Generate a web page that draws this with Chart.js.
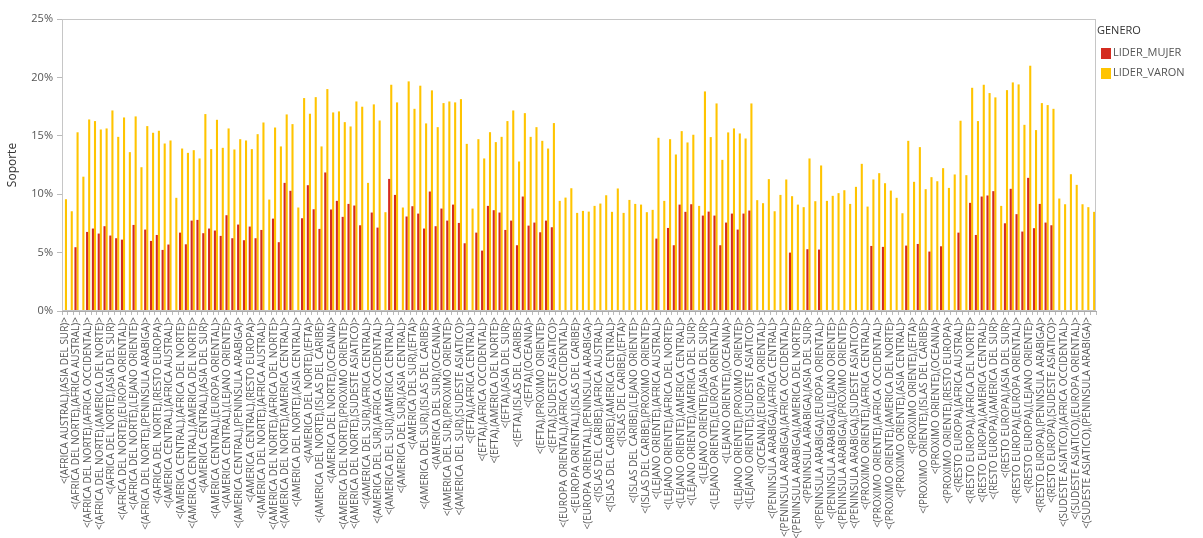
<!DOCTYPE html>
<html>
<head>
<meta charset="utf-8">
<script src="https://cdn.jsdelivr.net/npm/chart.js@4.4.0/dist/chart.umd.min.js"></script>
<style>
  html, body { margin: 0; padding: 0; background: #fff; }
</style>
</head>
<body>
<canvas id="chart" width="1203" height="538"></canvas>
<script>
// Categories (pairs of regions), alphabetical as in the original report
const categories = [
    '<(AFRICA AUSTRAL),(ASIA DEL SUR)>', '<(AFRICA AUSTRAL),(RESTO EUROPA)>',
    '<(AFRICA DEL NORTE),(AFRICA AUSTRAL)>', '<(AFRICA DEL NORTE),(AFRICA CENTRAL)>',
    '<(AFRICA DEL NORTE),(AFRICA OCCIDENTAL)>', '<(AFRICA DEL NORTE),(AMERICA CENTRAL)>',
    '<(AFRICA DEL NORTE),(AMERICA DEL NORTE)>', '<(AFRICA DEL NORTE),(AMERICA DEL SUR)>',
    '<(AFRICA DEL NORTE),(ASIA DEL SUR)>', '<(AFRICA DEL NORTE),(EFTA)>',
    '<(AFRICA DEL NORTE),(EUROPA ORIENTAL)>', '<(AFRICA DEL NORTE),(ISLAS DEL CARIBE)>',
    '<(AFRICA DEL NORTE),(LEJANO ORIENTE)>', '<(AFRICA DEL NORTE),(OCEANIA)>',
    '<(AFRICA DEL NORTE),(PENINSULA ARABIGA)>', '<(AFRICA DEL NORTE),(PROXIMO ORIENTE)>',
    '<(AFRICA DEL NORTE),(RESTO EUROPA)>', '<(AFRICA DEL NORTE),(SUDESTE ASIATICO)>',
    '<(AMERICA CENTRAL),(AFRICA AUSTRAL)>', '<(AMERICA CENTRAL),(AFRICA CENTRAL)>',
    '<(AMERICA CENTRAL),(AFRICA DEL NORTE)>', '<(AMERICA CENTRAL),(AFRICA OCCIDENTAL)>',
    '<(AMERICA CENTRAL),(AMERICA DEL NORTE)>', '<(AMERICA CENTRAL),(AMERICA DEL SUR)>',
    '<(AMERICA CENTRAL),(ASIA DEL SUR)>', '<(AMERICA CENTRAL),(EFTA)>',
    '<(AMERICA CENTRAL),(EUROPA ORIENTAL)>', '<(AMERICA CENTRAL),(ISLAS DEL CARIBE)>',
    '<(AMERICA CENTRAL),(LEJANO ORIENTE)>', '<(AMERICA CENTRAL),(OCEANIA)>',
    '<(AMERICA CENTRAL),(PENINSULA ARABIGA)>', '<(AMERICA CENTRAL),(PROXIMO ORIENTE)>',
    '<(AMERICA CENTRAL),(RESTO EUROPA)>', '<(AMERICA CENTRAL),(SUDESTE ASIATICO)>',
    '<(AMERICA DEL NORTE),(AFRICA AUSTRAL)>', '<(AMERICA DEL NORTE),(AFRICA CENTRAL)>',
    '<(AMERICA DEL NORTE),(AFRICA DEL NORTE)>', '<(AMERICA DEL NORTE),(AFRICA OCCIDENTAL)>',
    '<(AMERICA DEL NORTE),(AMERICA CENTRAL)>', '<(AMERICA DEL NORTE),(AMERICA DEL SUR)>',
    '<(AMERICA DEL NORTE),(ASIA CENTRAL)>', '<(AMERICA DEL NORTE),(ASIA DEL SUR)>',
    '<(AMERICA DEL NORTE),(EFTA)>', '<(AMERICA DEL NORTE),(EUROPA ORIENTAL)>',
    '<(AMERICA DEL NORTE),(ISLAS DEL CARIBE)>', '<(AMERICA DEL NORTE),(LEJANO ORIENTE)>',
    '<(AMERICA DEL NORTE),(OCEANIA)>', '<(AMERICA DEL NORTE),(PENINSULA ARABIGA)>',
    '<(AMERICA DEL NORTE),(PROXIMO ORIENTE)>', '<(AMERICA DEL NORTE),(RESTO EUROPA)>',
    '<(AMERICA DEL NORTE),(SUDESTE ASIATICO)>', '<(AMERICA DEL SUR),(AFRICA AUSTRAL)>',
    '<(AMERICA DEL SUR),(AFRICA CENTRAL)>', '<(AMERICA DEL SUR),(AFRICA DEL NORTE)>',
    '<(AMERICA DEL SUR),(AFRICA OCCIDENTAL)>', '<(AMERICA DEL SUR),(AFRICA ORIENTAL)>',
    '<(AMERICA DEL SUR),(AMERICA CENTRAL)>', '<(AMERICA DEL SUR),(AMERICA DEL NORTE)>',
    '<(AMERICA DEL SUR),(ASIA CENTRAL)>', '<(AMERICA DEL SUR),(ASIA DEL SUR)>',
    '<(AMERICA DEL SUR),(EFTA)>', '<(AMERICA DEL SUR),(EUROPA ORIENTAL)>',
    '<(AMERICA DEL SUR),(ISLAS DEL CARIBE)>', '<(AMERICA DEL SUR),(LEJANO ORIENTE)>',
    '<(AMERICA DEL SUR),(OCEANIA)>', '<(AMERICA DEL SUR),(PENINSULA ARABIGA)>',
    '<(AMERICA DEL SUR),(PROXIMO ORIENTE)>', '<(AMERICA DEL SUR),(RESTO EUROPA)>',
    '<(AMERICA DEL SUR),(SUDESTE ASIATICO)>', '<(ASIA CENTRAL),(AMERICA DEL SUR)>',
    '<(EFTA),(AFRICA CENTRAL)>', '<(EFTA),(AFRICA DEL NORTE)>',
    '<(EFTA),(AFRICA OCCIDENTAL)>', '<(EFTA),(AMERICA CENTRAL)>',
    '<(EFTA),(AMERICA DEL NORTE)>', '<(EFTA),(AMERICA DEL SUR)>',
    '<(EFTA),(ASIA DEL SUR)>', '<(EFTA),(EUROPA ORIENTAL)>',
    '<(EFTA),(ISLAS DEL CARIBE)>', '<(EFTA),(LEJANO ORIENTE)>',
    '<(EFTA),(OCEANIA)>', '<(EFTA),(PENINSULA ARABIGA)>',
    '<(EFTA),(PROXIMO ORIENTE)>', '<(EFTA),(RESTO EUROPA)>',
    '<(EFTA),(SUDESTE ASIATICO)>', '<(EUROPA ORIENTAL),(AFRICA CENTRAL)>',
    '<(EUROPA ORIENTAL),(AFRICA OCCIDENTAL)>', '<(EUROPA ORIENTAL),(ASIA CENTRAL)>',
    '<(EUROPA ORIENTAL),(ISLAS DEL CARIBE)>', '<(EUROPA ORIENTAL),(OCEANIA)>',
    '<(EUROPA ORIENTAL),(PENINSULA ARABIGA)>', '<(EUROPA ORIENTAL),(PROXIMO ORIENTE)>',
    '<(ISLAS DEL CARIBE),(AFRICA AUSTRAL)>', '<(ISLAS DEL CARIBE),(AFRICA OCCIDENTAL)>',
    '<(ISLAS DEL CARIBE),(AMERICA CENTRAL)>', '<(ISLAS DEL CARIBE),(AMERICA DEL NORTE)>',
    '<(ISLAS DEL CARIBE),(EFTA)>', '<(ISLAS DEL CARIBE),(EUROPA ORIENTAL)>',
    '<(ISLAS DEL CARIBE),(LEJANO ORIENTE)>', '<(ISLAS DEL CARIBE),(OCEANIA)>',
    '<(ISLAS DEL CARIBE),(PROXIMO ORIENTE)>', '<(ISLAS DEL CARIBE),(SUDESTE ASIATICO)>',
    '<(LEJANO ORIENTE),(AFRICA AUSTRAL)>', '<(LEJANO ORIENTE),(AFRICA CENTRAL)>',
    '<(LEJANO ORIENTE),(AFRICA DEL NORTE)>', '<(LEJANO ORIENTE),(AFRICA OCCIDENTAL)>',
    '<(LEJANO ORIENTE),(AMERICA CENTRAL)>', '<(LEJANO ORIENTE),(AMERICA DEL NORTE)>',
    '<(LEJANO ORIENTE),(AMERICA DEL SUR)>', '<(LEJANO ORIENTE),(ASIA CENTRAL)>',
    '<(LEJANO ORIENTE),(ASIA DEL SUR)>', '<(LEJANO ORIENTE),(EFTA)>',
    '<(LEJANO ORIENTE),(EUROPA ORIENTAL)>', '<(LEJANO ORIENTE),(ISLAS DEL CARIBE)>',
    '<(LEJANO ORIENTE),(OCEANIA)>', '<(LEJANO ORIENTE),(PENINSULA ARABIGA)>',
    '<(LEJANO ORIENTE),(PROXIMO ORIENTE)>', '<(LEJANO ORIENTE),(RESTO EUROPA)>',
    '<(LEJANO ORIENTE),(SUDESTE ASIATICO)>', '<(OCEANIA),(AMERICA DEL SUR)>',
    '<(OCEANIA),(EUROPA ORIENTAL)>', '<(OCEANIA),(RESTO EUROPA)>',
    '<(PENINSULA ARABIGA),(AFRICA CENTRAL)>', '<(PENINSULA ARABIGA),(AFRICA DEL NORTE)>',
    '<(PENINSULA ARABIGA),(AFRICA OCCIDENTAL)>', '<(PENINSULA ARABIGA),(AMERICA CENTRAL)>',
    '<(PENINSULA ARABIGA),(AMERICA DEL NORTE)>', '<(PENINSULA ARABIGA),(ASIA CENTRAL)>',
    '<(PENINSULA ARABIGA),(ASIA DEL SUR)>', '<(PENINSULA ARABIGA),(EFTA)>',
    '<(PENINSULA ARABIGA),(EUROPA ORIENTAL)>', '<(PENINSULA ARABIGA),(ISLAS DEL CARIBE)>',
    '<(PENINSULA ARABIGA),(LEJANO ORIENTE)>', '<(PENINSULA ARABIGA),(OCEANIA)>',
    '<(PENINSULA ARABIGA),(PROXIMO ORIENTE)>', '<(PENINSULA ARABIGA),(RESTO EUROPA)>',
    '<(PENINSULA ARABIGA),(SUDESTE ASIATICO)>', '<(PROXIMO ORIENTE),(AFRICA AUSTRAL)>',
    '<(PROXIMO ORIENTE),(AFRICA CENTRAL)>', '<(PROXIMO ORIENTE),(AFRICA DEL NORTE)>',
    '<(PROXIMO ORIENTE),(AFRICA OCCIDENTAL)>', '<(PROXIMO ORIENTE),(AMERICA CENTRAL)>',
    '<(PROXIMO ORIENTE),(AMERICA DEL NORTE)>', '<(PROXIMO ORIENTE),(AMERICA DEL SUR)>',
    '<(PROXIMO ORIENTE),(ASIA CENTRAL)>', '<(PROXIMO ORIENTE),(ASIA DEL SUR)>',
    '<(PROXIMO ORIENTE),(EFTA)>', '<(PROXIMO ORIENTE),(EUROPA ORIENTAL)>',
    '<(PROXIMO ORIENTE),(ISLAS DEL CARIBE)>', '<(PROXIMO ORIENTE),(LEJANO ORIENTE)>',
    '<(PROXIMO ORIENTE),(OCEANIA)>', '<(PROXIMO ORIENTE),(PENINSULA ARABIGA)>',
    '<(PROXIMO ORIENTE),(RESTO EUROPA)>', '<(PROXIMO ORIENTE),(SUDESTE ASIATICO)>',
    '<(RESTO EUROPA),(AFRICA AUSTRAL)>', '<(RESTO EUROPA),(AFRICA CENTRAL)>',
    '<(RESTO EUROPA),(AFRICA DEL NORTE)>', '<(RESTO EUROPA),(AFRICA OCCIDENTAL)>',
    '<(RESTO EUROPA),(AMERICA CENTRAL)>', '<(RESTO EUROPA),(AMERICA DEL NORTE)>',
    '<(RESTO EUROPA),(AMERICA DEL SUR)>', '<(RESTO EUROPA),(ASIA CENTRAL)>',
    '<(RESTO EUROPA),(ASIA DEL SUR)>', '<(RESTO EUROPA),(EFTA)>',
    '<(RESTO EUROPA),(EUROPA ORIENTAL)>', '<(RESTO EUROPA),(ISLAS DEL CARIBE)>',
    '<(RESTO EUROPA),(LEJANO ORIENTE)>', '<(RESTO EUROPA),(OCEANIA)>',
    '<(RESTO EUROPA),(PENINSULA ARABIGA)>', '<(RESTO EUROPA),(PROXIMO ORIENTE)>',
    '<(RESTO EUROPA),(SUDESTE ASIATICO)>', '<(SUDESTE ASIATICO),(AFRICA AUSTRAL)>',
    '<(SUDESTE ASIATICO),(AFRICA OCCIDENTAL)>', '<(SUDESTE ASIATICO),(AMERICA DEL NORTE)>',
    '<(SUDESTE ASIATICO),(EUROPA ORIENTAL)>', '<(SUDESTE ASIATICO),(OCEANIA)>',
    '<(SUDESTE ASIATICO),(PENINSULA ARABIGA)>', '<(SUDESTE ASIATICO),(RESTO EUROPA)>'
];

// Soporte (%) per gender of the leader, null = no bar
const liderMujer = [
    null, null, 5.46, null, 6.77, 7.06, 6.63, 7.26, 6.46, 6.23,
    6.11, null, 7.37, null, 6.97, 6.0, 6.51, 5.23, 5.69, null,
    6.71, 5.71, 7.74, 7.8, 6.66, 7.06, 6.89, 6.43, 8.2, 6.23,
    7.4, 6.06, 7.23, 6.23, 6.94, null, 7.91, 5.89, 10.97, 10.29,
    null, 7.94, 10.77, 8.71, 7.03, 11.86, 8.69, 9.43, 8.06, 9.17,
    9.03, 7.34, null, 8.43, 7.14, null, 11.31, 9.94, null, 8.09,
    8.97, 8.34, 7.06, 10.23, 7.26, 8.77, 7.74, 9.11, 7.54, 5.8,
    null, 6.71, 5.17, 9.0, 8.63, 8.43, 6.94, 7.74, 5.63, 9.8,
    7.31, 7.57, 6.74, 7.74, 7.17, null, null, null, null, null,
    null, null, null, null, null, null, null, null, null, null,
    null, null, 6.2, null, 7.11, 5.63, 9.11, 8.49, 9.14, null,
    8.17, 8.51, 8.17, 5.63, 7.57, 8.34, 6.97, 8.34, 8.6, null,
    null, null, null, null, null, 5.0, null, null, 5.29, null,
    5.26, null, null, null, null, null, null, null, null, 5.57,
    null, 5.49, null, null, null, 5.6, null, 5.74, null, 5.09,
    null, 5.54, null, null, 6.71, null, 9.26, 6.51, 9.8, 9.89,
    10.26, null, 7.51, 10.46, 8.29, 6.8, 11.4, 7.09, 9.17, 7.57,
    7.34, null, null, null, null, null, null, null
];

const liderVaron = [
    9.57, 8.54, 15.3, 11.5, 16.4, 16.26, 15.54, 15.63, 17.17, 14.91,
    16.57, 13.6, 16.66, 12.31, 15.83, 15.26, 15.43, 14.34, 14.6, 9.69,
    13.91, 13.54, 13.77, 13.06, 16.86, 13.86, 16.37, 13.97, 15.63, 13.83,
    14.71, 14.6, 13.86, 15.14, 16.14, 9.54, 15.71, 14.09, 16.83, 16.0,
    8.86, 18.23, 16.89, 18.31, 14.09, 19.0, 17.0, 17.09, 16.17, 15.8,
    17.94, 17.49, 10.97, 17.69, 16.31, 8.46, 19.37, 17.86, 8.86, 19.66,
    17.31, 19.29, 16.06, 18.89, 15.74, 17.8, 17.94, 17.86, 18.14, 14.31,
    8.77, 14.71, 13.06, 15.31, 14.46, 14.91, 16.26, 17.17, 12.8, 16.94,
    14.91, 15.74, 14.57, 13.91, 16.09, 9.43, 9.71, 10.51, 8.4, 8.57,
    8.51, 9.0, 9.2, 9.91, 8.49, 10.49, 8.4, 9.51, 9.17, 9.11,
    8.46, 8.66, 14.83, 9.43, 14.71, 13.4, 15.4, 14.43, 15.09, 9.0,
    18.8, 14.89, 17.77, 12.94, 15.29, 15.63, 15.2, 14.77, 17.77, 9.49,
    9.23, 11.29, 8.54, 9.94, 11.26, 9.83, 9.11, 8.89, 13.06, 9.4,
    12.46, 9.43, 9.86, 10.09, 10.34, 9.17, 10.63, 12.6, 8.94, 11.26,
    11.8, 10.94, 10.31, 9.69, 8.37, 14.57, 11.06, 14.03, 10.43, 11.46,
    11.11, 12.23, 10.54, 11.69, 16.29, 11.63, 19.11, 16.26, 19.37, 18.66,
    18.29, 9.0, 18.91, 19.57, 19.4, 15.94, 21.0, 15.49, 17.8, 17.63,
    17.31, 9.63, 9.14, 11.71, 10.8, 9.14, 8.89, 8.49
];

const yTicks = [0, 5, 10, 15, 20, 25];
const legendTitle = 'GENERO';

// thin box around the plot area
const plotFrame = {
    id: 'plotFrame',
    afterDatasetsDraw(chart) {
        const { ctx, chartArea: a } = chart;
        ctx.save();
        ctx.strokeStyle = '#c6c6c6';
        ctx.lineWidth = 1;
        ctx.strokeRect(Math.round(a.left) + 0.5, Math.round(a.top) + 0.5,
            Math.round(a.width) - 1, Math.round(a.height) - 1);
        ctx.restore();
    }
};

// legend to the right of the plot, built from the datasets
const sideLegend = {
    id: 'sideLegend',
    afterDraw(chart) {
        const { ctx, chartArea: a } = chart;
        const x = a.right + 3;
        ctx.save();
        ctx.textBaseline = 'middle';
        ctx.textAlign = 'left';
        ctx.font = "11px 'Open Sans', sans-serif";
        ctx.fillStyle = '#333';
        ctx.fillText(legendTitle, x - 2, 31);
        chart.data.datasets.forEach((ds, i) => {
            const y = 53 + i * 20;
            ctx.fillStyle = ds.backgroundColor;
            ctx.fillRect(x + 2, y - 5, 10, 11);
            ctx.fillStyle = '#555';
            ctx.fillText(ds.label, x + 14, y);
        });
        ctx.restore();
    }
};

Chart.defaults.font.family = "'Open Sans', 'Noto Sans', sans-serif";

new Chart(document.getElementById('chart'), {
    type: 'bar',
    data: {
        labels: categories,
        datasets: [
            {
                label: 'LIDER_MUJER',
                data: liderMujer,
                backgroundColor: '#D42B1F',
                barPercentage: 1,
                categoryPercentage: 0.72
            },
            {
                label: 'LIDER_VARON',
                data: liderVaron,
                backgroundColor: '#FFC400',
                barPercentage: 1,
                categoryPercentage: 0.72
            }
        ]
    },
    options: {
        responsive: false,
        animation: false,
        layout: { padding: { top: 19, right: 107, bottom: 0, left: 0 } },
        plugins: {
            tooltip: { enabled: false },
            legend: { display: false }
        },
        scales: {
            x: {
                grid: { drawOnChartArea: false, drawTicks: true, tickLength: 4, color: '#bbb' },
                border: { color: '#aaa' },
                ticks: {
                    autoSkip: false,
                    minRotation: 90,
                    maxRotation: 90,
                    padding: 2,
                    color: '#555',
                    font: { size: 10 },
                    callback: function (value, index) {
                        return index % 2 === 0 ? this.getLabelForValue(value) : '';
                    }
                },
                afterFit: function (scale) { scale.height = 227; }
            },
            y: {
                min: 0,
                max: 25,
                afterBuildTicks: function (scale) {
                    scale.ticks = yTicks.map(v => ({ value: v }));
                },
                grid: { drawOnChartArea: false, drawTicks: true, tickLength: 5, color: '#bbb' },
                border: { color: '#aaa' },
                ticks: {
                    color: '#555',
                    padding: 4,
                    font: { size: 11 },
                    callback: v => v + '%'
                },
                title: {
                    display: true,
                    text: 'Soporte',
                    color: '#333',
                    font: { size: 12 },
                    padding: { top: 5, bottom: 0 }
                },
                afterFit: function (scale) { scale.width = 62; }
            }
        }
    },
    plugins: [plotFrame, sideLegend]
});
</script>
</body>
</html>
